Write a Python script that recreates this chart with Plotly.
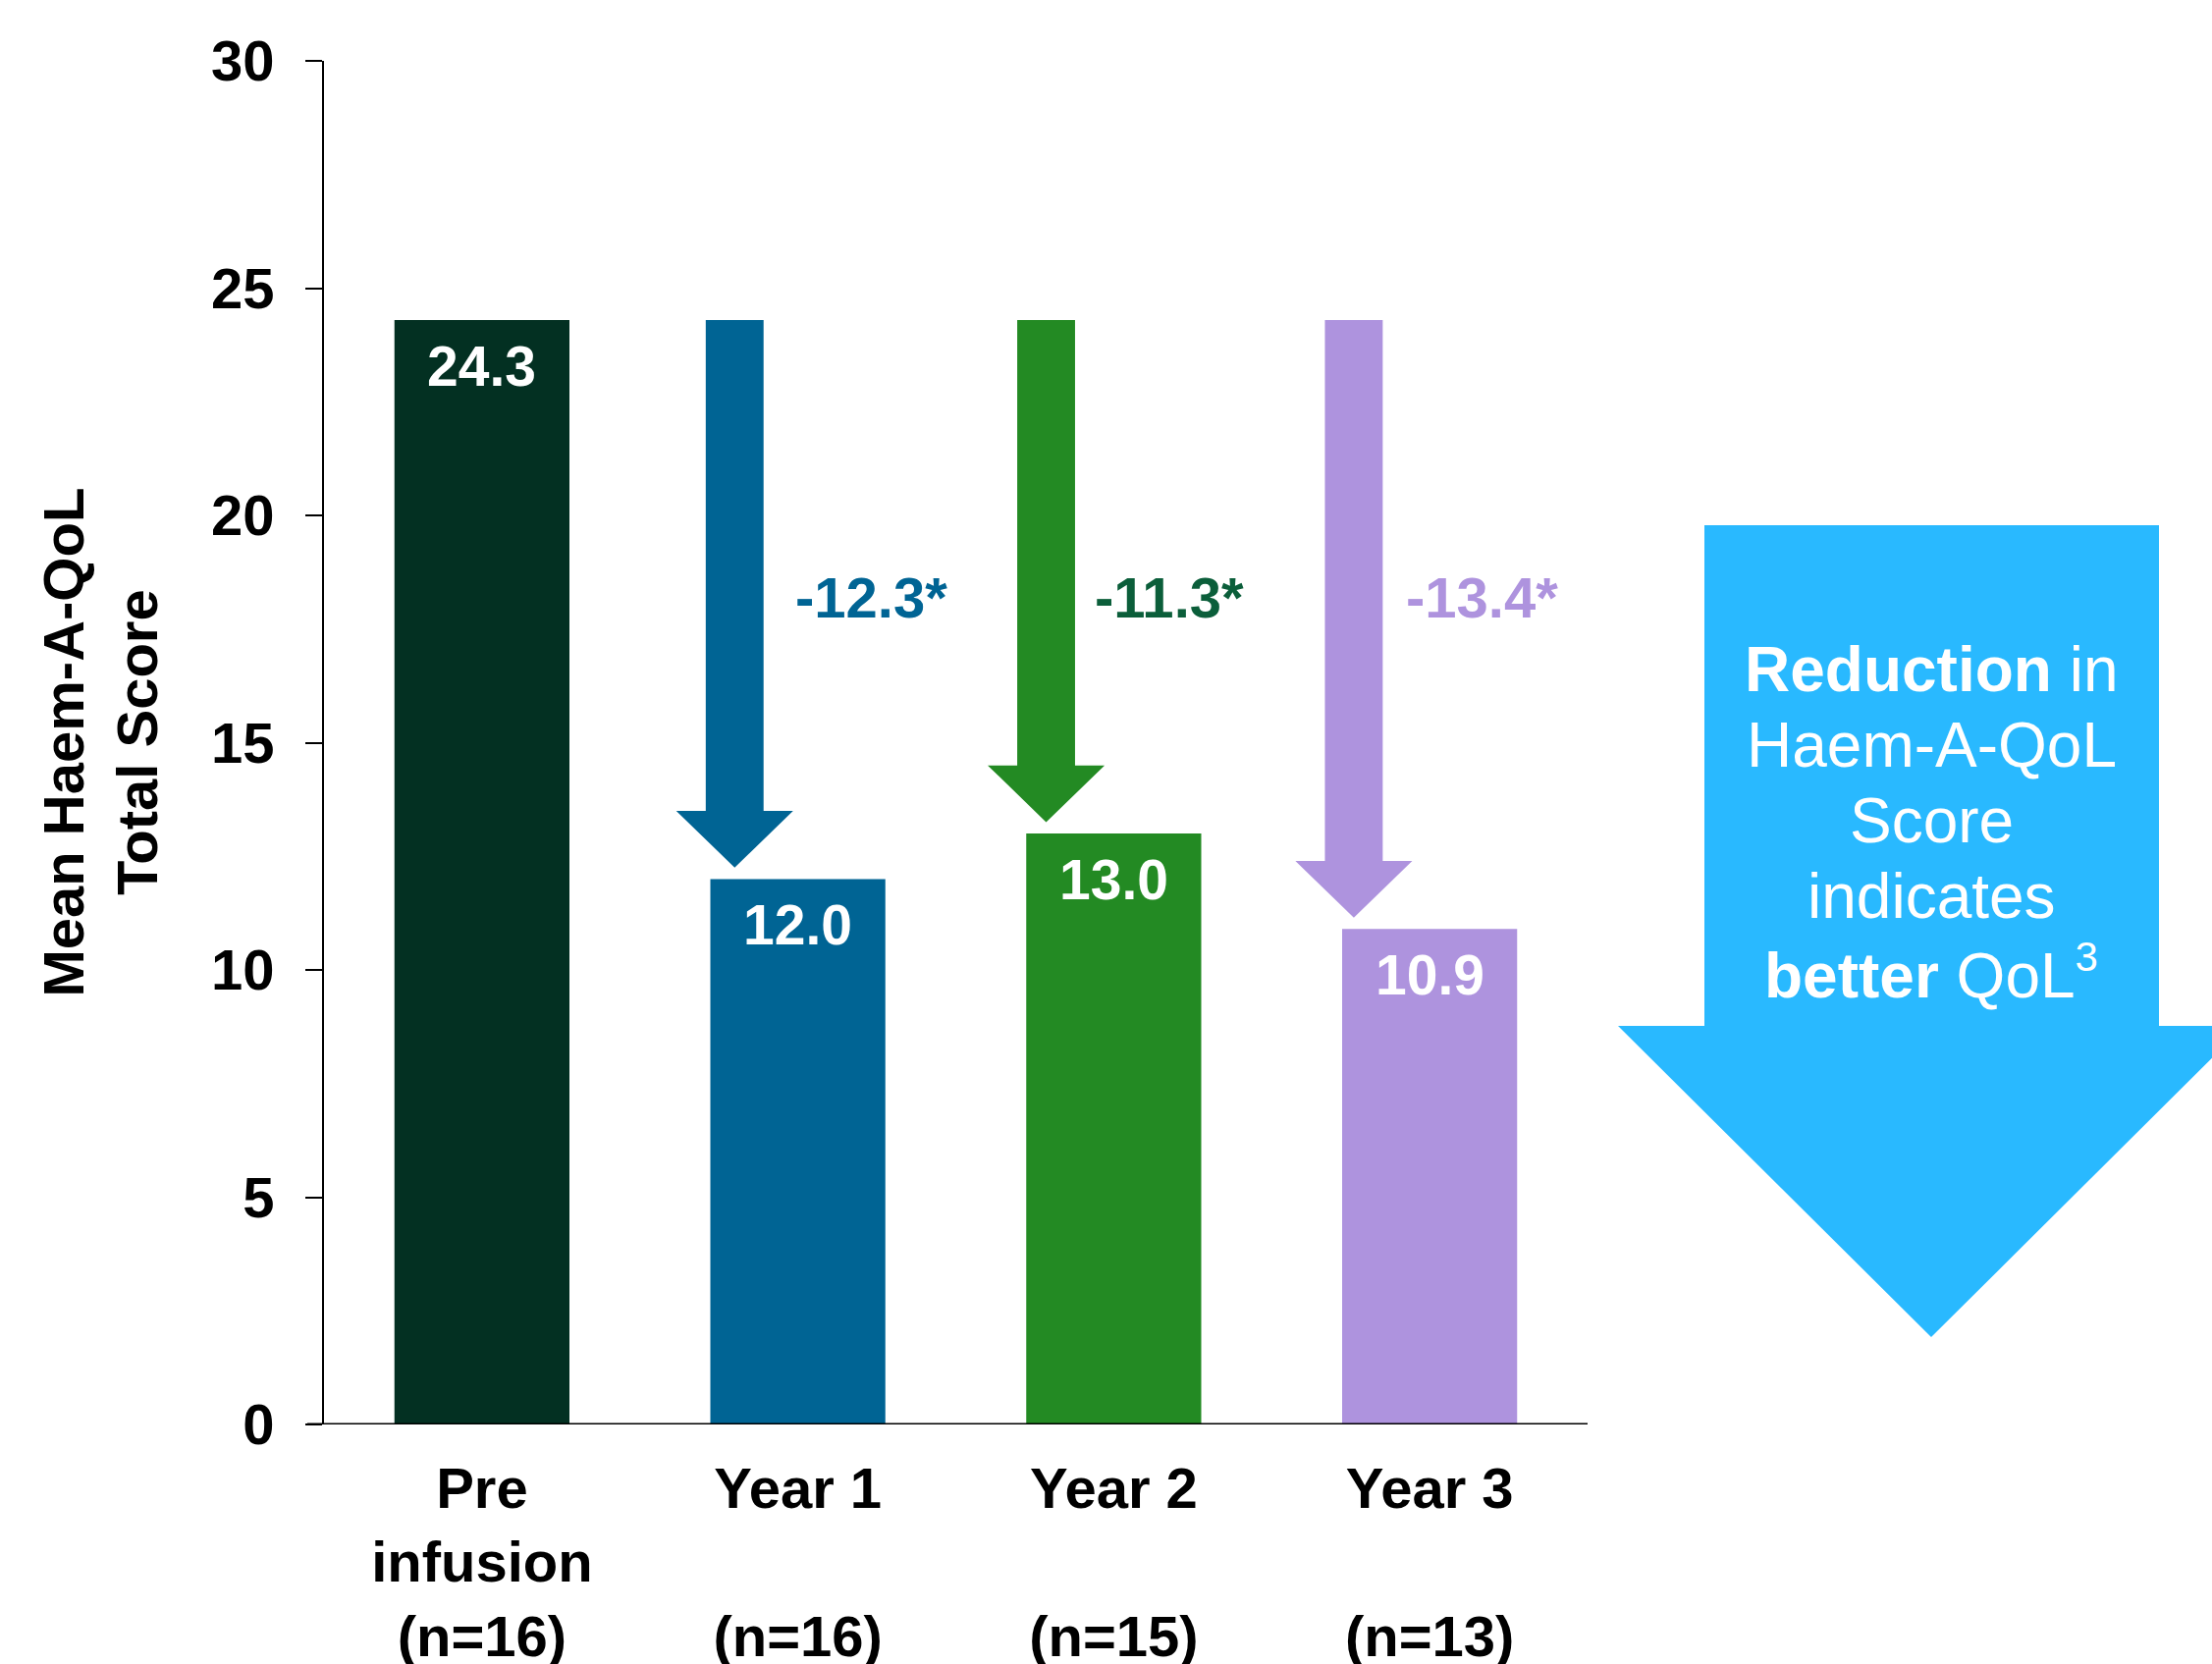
import plotly.graph_objects as go

# ---------------- data ----------------
categories = ["Pre<br>infusion<br>(n=16)", "Year 1<br> <br>(n=16)", "Year 2<br> <br>(n=15)", "Year 3<br> <br>(n=13)"]
scores = [24.3, 12.0, 13.0, 10.9]
value_labels = ["24.3", "12.0", "13.0", "10.9"]
changes = [None, -12.3, -11.3, -13.4]
change_labels = [None, "-12.3*", "-11.3*", "-13.4*"]
y_ticks = [0, 5, 10, 15, 20, 25, 30]
note_lines = ["<b>Reduction</b> in", "Haem-A-QoL", "Score", "indicates",
              "<b>better</b> QoL<sup><span style='font-size:42px'>3</span></sup>"]

# ---------------- styles ----------------
bar_colors = ["#033022", "#006494", "#238A23", "#AE93DE"]
arrow_colors = [None, "#006494", "#238A23", "#AE93DE"]
change_colors = [None, "#006494", "#0B5E3A", "#AE93DE"]
arrow_dx = [None, -0.20, -0.214, -0.24]
label_dx = [None, -0.013, -0.067, -0.08]
BIG_ARROW = "#29B9FF"
FONT = "Liberation Sans, Arial, sans-serif"

W, H = 2253, 1695
L, R, T, B = 330, 636, 62, 244
plot_w = W - L - R
plot_h = H - T - B

fig = go.Figure()

x_pos = list(range(len(categories)))
fig.add_trace(go.Bar(
    x=x_pos, y=scores, width=0.554,
    marker=dict(color=bar_colors, line=dict(width=0)),
    hoverinfo="skip", showlegend=False,
))

# change arrows (from baseline down to each bar)
SHAFT_HW = 0.0915
HEAD_HW = 0.185
HEAD_H = 1.25
TIP_GAP = 0.25
base = scores[0]
for i in range(1, len(scores)):
    cx = i + arrow_dx[i]
    tip = scores[i] + TIP_GAP
    hb = tip + HEAD_H
    xs = [cx - SHAFT_HW, cx + SHAFT_HW, cx + SHAFT_HW, cx + HEAD_HW, cx, cx - HEAD_HW, cx - SHAFT_HW, cx - SHAFT_HW]
    ys = [base, base, hb, hb, tip, hb, hb, base]
    fig.add_trace(go.Scatter(
        x=xs, y=ys, mode="lines", fill="toself",
        fillcolor=arrow_colors[i], line=dict(width=0, color=arrow_colors[i]),
        hoverinfo="skip", showlegend=False,
    ))

annotations = []
# value labels inside bars
for i, v in enumerate(scores):
    annotations.append(dict(
        x=i, y=v, xref="x", yref="y", text="<b>%s</b>" % value_labels[i],
        showarrow=False, yanchor="middle", xanchor="center", yshift=-47,
        font=dict(family=FONT, size=57, color="white"),
    ))
# change labels
LABEL_Y = 18.2
for i in range(1, len(scores)):
    annotations.append(dict(
        x=i + label_dx[i], y=LABEL_Y, xref="x", yref="y", text="<b>%s</b>" % change_labels[i],
        showarrow=False, xanchor="left", yanchor="middle",
        font=dict(family=FONT, size=58, color=change_colors[i]),
    ))
# y-axis title
annotations.append(dict(
    x=(101 - L) / plot_w, y=0.5, xref="paper", yref="paper",
    text="<b>Mean Haem-A-QoL<br>Total Score</b>", textangle=-90,
    showarrow=False, xanchor="center", yanchor="middle",
    font=dict(family=FONT, size=58, color="black"),
))

# big explanatory arrow (pixel geometry -> paper)
def px(xp):
    return (xp - L) / plot_w
def py(yp):
    return (H - B - yp) / plot_h

big = [(1736, 535), (2199, 535), (2199, 1045), (2286, 1045), (1967, 1362), (1648, 1045), (1736, 1045)]
path = "M " + " L ".join("%f,%f" % (px(a), py(b)) for a, b in big) + " Z"
shapes = [
    dict(type="path", path=path, xref="paper", yref="paper",
         fillcolor=BIG_ARROW, line=dict(width=0), layer="above"),
    dict(type="line", xref="paper", yref="y", x0=-17 / plot_w, x1=1, y0=0, y1=0,
         line=dict(color="black", width=3)),
]
NOTE_CX, NOTE_CY, NOTE_LH = 1967, 836, 77
for k, line in enumerate(note_lines):
    annotations.append(dict(
        x=px(NOTE_CX), y=py(NOTE_CY + (k - 2) * NOTE_LH), xref="paper", yref="paper",
        text=line, showarrow=False, xanchor="center", yanchor="middle",
        font=dict(family=FONT, size=64, color="white"),
    ))

fig.update_layout(
    width=W, height=H,
    margin=dict(l=L, r=R, t=T, b=B, pad=0, autoexpand=False),
    paper_bgcolor="white", plot_bgcolor="white",
    showlegend=False,
    shapes=shapes, annotations=annotations,
    xaxis=dict(
        range=[-0.5, 3.5], tickvals=x_pos, ticktext=["<b>%s</b>" % c for c in categories],
        showgrid=False, zeroline=False, showline=False, ticks="",
        tickfont=dict(family=FONT, size=58, color="black"),
        ticklabelstandoff=26, automargin=False,
    ),
    yaxis=dict(
        range=[0, 30], tickvals=y_ticks, ticktext=["<b>%d</b>" % t for t in y_ticks],
        showgrid=False, zeroline=False, showline=True, linecolor="black", linewidth=2,
        ticks="outside", ticklen=17, tickwidth=2, tickcolor="black",
        tickfont=dict(family=FONT, size=58, color="black"),
        ticklabelstandoff=20, automargin=False,
    ),
)

fig.write_html("out.html")
